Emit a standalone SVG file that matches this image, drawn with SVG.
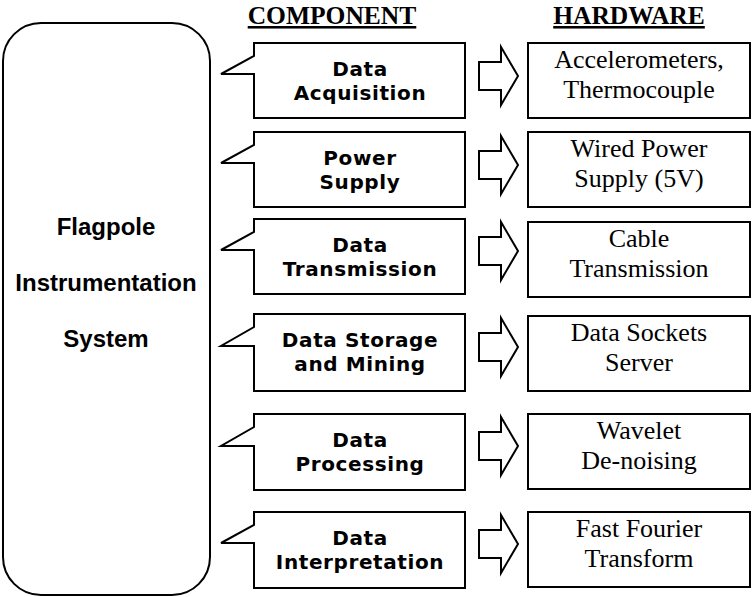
<svg xmlns="http://www.w3.org/2000/svg" width="754" height="597" viewBox="0 0 754 597">
<style>
.ln{fill:#fff;stroke:#000;stroke-width:2;stroke-linejoin:miter}
.sys{font-family:"Liberation Sans",Arial,sans-serif;font-weight:bold;font-size:24px;text-anchor:middle;fill:#000}
.cmp{font-family:"DejaVu Sans",Verdana,sans-serif;font-weight:bold;font-size:20px;letter-spacing:0.6px;text-anchor:middle;fill:#000}
.hw{font-family:"Liberation Serif","Times New Roman",serif;font-size:26px;text-anchor:middle;fill:#000}
.hd{font-family:"Liberation Serif","Times New Roman",serif;font-weight:bold;font-size:25.5px;text-anchor:middle;text-decoration:underline;fill:#000}
</style>
<rect width="754" height="597" fill="#fff"/>
<g id="headers">
<text class="hd" x="332" y="24">COMPONENT</text>
<text class="hd" x="629" y="24">HARDWARE</text>
</g>
<g id="system">
<rect class="ln" x="3" y="23" width="207" height="572" rx="38" ry="38"/>
<text class="sys" x="106" y="235">Flagpole</text>
<text class="sys" x="106" y="291">Instrumentation</text>
<text class="sys" x="106" y="347">System</text>
</g>
<g id="c1"><path class="ln" d="M254,43 H465 V118 H254 V74 H221 L254,56 Z"/><text class="cmp" x="360" y="76">Data</text><text class="cmp" x="360" y="100">Acquisition</text></g>
<g id="c2"><path class="ln" d="M254,132 H465 V207 H254 V163 H221 L254,145 Z"/><text class="cmp" x="360" y="165">Power</text><text class="cmp" x="360" y="189">Supply</text></g>
<g id="c3"><path class="ln" d="M254,219 H465 V294 H254 V250 H221 L254,232 Z"/><text class="cmp" x="360" y="252">Data</text><text class="cmp" x="360" y="276">Transmission</text></g>
<g id="c4"><path class="ln" d="M254,314 H465 V391 H254 V346 H221 L254,327 Z"/><text class="cmp" x="360" y="347">Data Storage</text><text class="cmp" x="360" y="371">and Mining</text></g>
<g id="c5"><path class="ln" d="M254,414 H465 V490 H254 V446 H221 L254,427 Z"/><text class="cmp" x="360" y="447">Data</text><text class="cmp" x="360" y="471">Processing</text></g>
<g id="c6"><path class="ln" d="M254,512 H465 V588 H254 V543 H221 L254,525 Z"/><text class="cmp" x="360" y="545">Data</text><text class="cmp" x="360" y="569">Interpretation</text></g>
<g id="connectors">
<path class="ln" d="M479,62 H501 V47 L518,76 L501,105 V90 H479 Z"/>
<path class="ln" d="M479,151 H501 V136 L518,165 L501,194 V179 H479 Z"/>
<path class="ln" d="M479,237 H501 V222 L518,251 L501,280 V265 H479 Z"/>
<path class="ln" d="M479,333 H501 V318 L518,347 L501,376 V361 H479 Z"/>
<path class="ln" d="M479,432 H501 V417 L518,446 L501,475 V460 H479 Z"/>
<path class="ln" d="M479,530 H501 V515 L518,544 L501,573 V558 H479 Z"/>
</g>
<g id="h1"><rect class="ln" x="528" y="43" width="222" height="75"/><text class="hw" x="639" y="68">Accelerometers,</text><text class="hw" x="639" y="98">Thermocouple</text></g>
<g id="h2"><rect class="ln" x="528" y="132" width="222" height="75"/><text class="hw" x="639" y="157">Wired Power</text><text class="hw" x="639" y="187">Supply (5V)</text></g>
<g id="h3"><rect class="ln" x="528" y="222" width="222" height="75"/><text class="hw" x="639" y="247">Cable</text><text class="hw" x="639" y="277">Transmission</text></g>
<g id="h4"><rect class="ln" x="528" y="316" width="222" height="75"/><text class="hw" x="639" y="341">Data Sockets</text><text class="hw" x="639" y="371">Server</text></g>
<g id="h5"><rect class="ln" x="528" y="414" width="222" height="75"/><text class="hw" x="639" y="439">Wavelet</text><text class="hw" x="639" y="469">De-noising</text></g>
<g id="h6"><rect class="ln" x="528" y="512" width="222" height="75"/><text class="hw" x="639" y="537">Fast Fourier</text><text class="hw" x="639" y="567">Transform</text></g>
</svg>
